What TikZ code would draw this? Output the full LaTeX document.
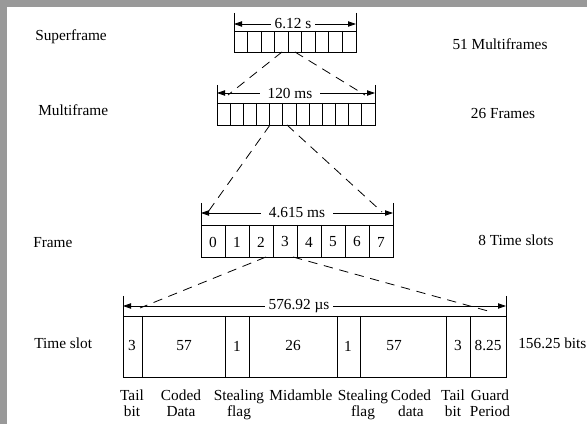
\documentclass[tikz,border=0pt]{standalone}
\usepackage{fontspec}
\setmainfont{Liberation Serif}
\usetikzlibrary{arrows.meta}
\definecolor{rim}{HTML}{999999}
\tikzset{
  lbl/.style={font=\fontsize{11.5}{11.5}\selectfont, inner sep=0pt},
  lvl/.style={lbl, anchor=west},
  fieldname/.style={lbl, anchor=north, align=center},
  span/.style={{Triangle[length=6pt,width=4pt]}-{Triangle[length=6pt,width=4pt]}, line width=0.6pt},
  spantxt/.style={lbl, fill=white, inner xsep=3pt, inner ysep=1pt},
  tick/.style={line width=0.6pt},
  cellbox/.style={draw, line width=0.7pt},
  zoomln/.style={dash pattern=on 7pt off 5pt, line width=0.6pt},
}
\begin{document}
\begin{tikzpicture}[x=0.75pt,y=-0.75pt]
  \useasboundingbox (0,0) rectangle (587,424);
  \fill[rim] (0,0) rectangle (587,424);
  \fill[white] (7,7) rectangle (587,424);
  % level names, left and right
  \node[lvl] (nSF) at (35,37) {Superframe};
  \node[lvl] (nMF) at (38,110) {Multiframe};
  \node[lvl] (nFR) at (33,243) {Frame};
  \node[lvl] (nTS) at (34,343) {Time slot};
  \node[lbl] (cSF) at (500,44) {51 Multiframes};
  \node[lbl] (cMF) at (503,114) {26 Frames};
  \node[lbl] (cFR) at (516,240) {8 Time slots};
  \node[lbl, anchor=west] (cTS) at (518,343) {156.25 bits};
  % superframe
  \draw[cellbox] (234,31) rectangle (356,52);
  \foreach \k in {1,...,8} \draw[cellbox] ({234+\k*122/9},31) -- ({234+\k*122/9},52);
  \draw[tick] (234,13) -- (234,31);
  \draw[tick] (356,13) -- (356,31);
  \draw[span] (234,24) -- (356,24);
  \node[spantxt] (tSF) at (293,24) {6.12 s};
  % multiframe
  \draw[cellbox] (217,103) rectangle (375,125);
  \foreach \k in {1,...,11} \draw[cellbox] ({217+\k*158/12},103) -- ({217+\k*158/12},125);
  \draw[tick] (217,85) -- (217,103);
  \draw[tick] (375,85) -- (375,103);
  \draw[span] (217,93) -- (375,93);
  \node[spantxt, inner xsep=6pt] (tMF) at (290,93) {120 ms};
  % frame
  \draw[cellbox] (201,225) rectangle (393,257);
  \foreach \k in {1,...,7} \draw[cellbox] ({201+\k*24},225) -- ({201+\k*24},257);
  \foreach \k in {0,...,7} \node[lbl] (fr\k) at ({201+(\k+0.5)*24},242) {\k};
  \draw[tick] (201,203) -- (201,225);
  \draw[tick] (393,203) -- (393,225);
  \draw[span] (201,213) -- (393,213);
  \node[spantxt, inner xsep=6pt] (tFR) at (297,213) {4.615 ms};
  % time slot
  \draw[cellbox] (123,316) rectangle (506,377);
  \foreach \x in {142,225,249,337,360,446,470} \draw[cellbox] (\x,316) -- (\x,377);
  \foreach \x/\v [count=\i] in {132/3,184/57,237/1,293/26,348/1,394/57,458/3,488/8.25}
    \node[lbl] (ts\i) at (\x,346) {\v};
  \draw[tick] (123,296) -- (123,316);
  \draw[tick] (506,296) -- (506,316);
  \draw[span] (123,306) -- (506,306);
  \node[spantxt] (tTS) at (299,306) {576.92 µs};
  % field names
  \foreach \x/\t [count=\i] in {132/{Tail\\bit},181/{Coded\\Data},239/{Stealing\\flag},
      301/{Midamble},363/{Stealing\\flag},411/{Coded\\data},453/{Tail\\bit},490/{Guard\\Period}}
    \node[fieldname] (f\i) at (\x,390) {\t};
  % zoom lines
  \coordinate (sfA) at (282,52);
  \coordinate (sfB) at (295,52);
  \coordinate (mfL) at (228,95);
  \coordinate (mfR) at (365,95);
  \coordinate (mfA) at (270,125);
  \coordinate (mfB) at (287,125);
  \coordinate (frL) at (208,212);
  \coordinate (frR) at (382,212);
  \coordinate (frA) at (266,257);
  \coordinate (frB) at (293,257);
  \coordinate (tsL) at (140,308);
  \coordinate (tsR) at (488,311);
  \draw[zoomln] (sfA) -- (mfL);
  \draw[zoomln] (sfB) -- (mfR);
  \draw[zoomln] (mfA) -- (frL);
  \draw[zoomln] (mfB) -- (frR);
  \draw[zoomln] (frA) -- (tsL);
  \draw[zoomln] (frB) -- (tsR);
\end{tikzpicture}
\end{document}
